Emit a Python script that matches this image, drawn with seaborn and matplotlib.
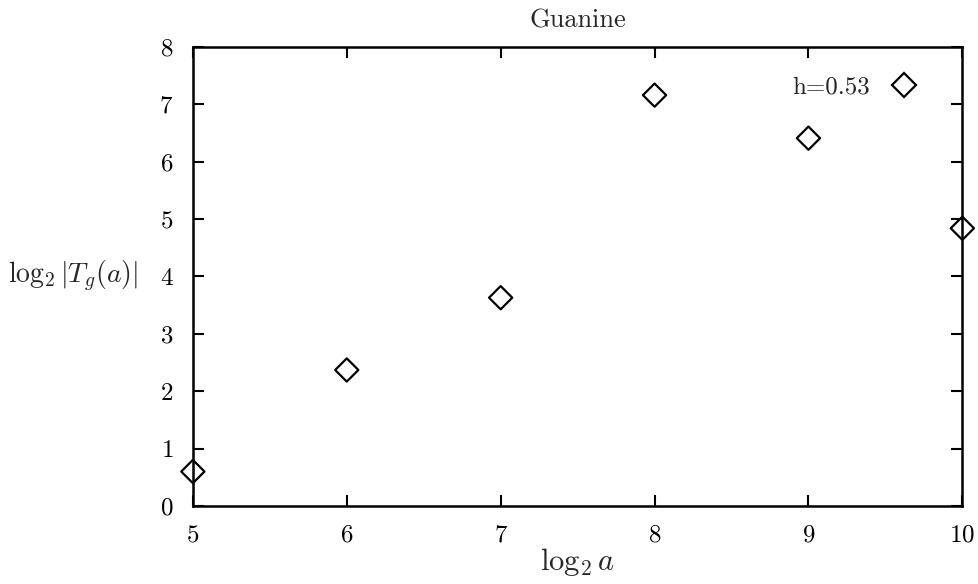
import matplotlib
matplotlib.use("Agg")
import matplotlib.pyplot as plt
import seaborn as sns
import pandas as pd

# log2 of scale a and log2 |T_g(a)| for the guanine sequence
log2_a = [5, 6, 7, 8, 9, 10]
log2_T = [0.60, 2.37, 3.63, 7.16, 6.41, 4.84]
series_label = "h=0.53"
x_ticks = [5, 6, 7, 8, 9, 10]
y_ticks = [0, 1, 2, 3, 4, 5, 6, 7, 8]

df = pd.DataFrame({"log2_a": log2_a, "log2_T": log2_T,
                   "series": [series_label] * len(log2_a)})

sns.set_theme(style="ticks")
plt.rcParams.update({
    "font.family": "serif",
    "font.serif": ["cmr10", "DejaVu Serif"],
    "mathtext.fontset": "cm",
    "axes.formatter.use_mathtext": True,
    "axes.unicode_minus": False,
    "font.size": 18,
})

fig = plt.figure(figsize=(9.79, 5.84), dpi=100)
ax = fig.add_axes([0.197, 0.1336, 0.786, 0.786])

sns.scatterplot(data=df, x="log2_a", y="log2_T", hue="series",
                palette=["black"], marker="D", s=140,
                edgecolor="black", linewidth=1.6,
                ax=ax, clip_on=False, zorder=5)
# hollow diamonds
for coll in ax.collections:
    coll.set_facecolor("none")
    coll.set_edgecolor("black")
    coll.set_linewidth(1.6)

ax.set_xlim(5, 10)
ax.set_ylim(0, 8)
ax.set_xticks(x_ticks)
ax.set_yticks(y_ticks)
ax.tick_params(direction="in", length=8, width=1.5, top=True, right=True,
               labelsize=18, colors="black")
ax.tick_params(axis="x", pad=13)
ax.tick_params(axis="y", pad=14)
for sp in ax.spines.values():
    sp.set_linewidth(1.8)
    sp.set_color("black")

ax.set_title("Guanine", fontsize=19, pad=14)
ax.set_xlabel(r"$\log_2 a$", fontsize=22, labelpad=0)
ax.set_ylabel(r"$\log_2|T_g(a)|$", fontsize=20, rotation=0,
              ha="right", va="center")
ax.yaxis.set_label_coords(-0.072, 0.5)

leg = ax.legend(loc="upper right", frameon=False, markerfirst=False,
                fontsize=18, handletextpad=0.4, borderaxespad=0.3,
                bbox_to_anchor=(0.98, 0.975))
for h in leg.legend_handles:
    if hasattr(h, "set_markerfacecolor"):
        h.set_markerfacecolor("none")
        h.set_markeredgecolor("black")
        h.set_markeredgewidth(1.6)
    else:
        h.set_facecolor("none")
        h.set_edgecolor("black")
        h.set_linewidth(1.6)

fig.savefig("out.png", dpi=100, facecolor="white")
